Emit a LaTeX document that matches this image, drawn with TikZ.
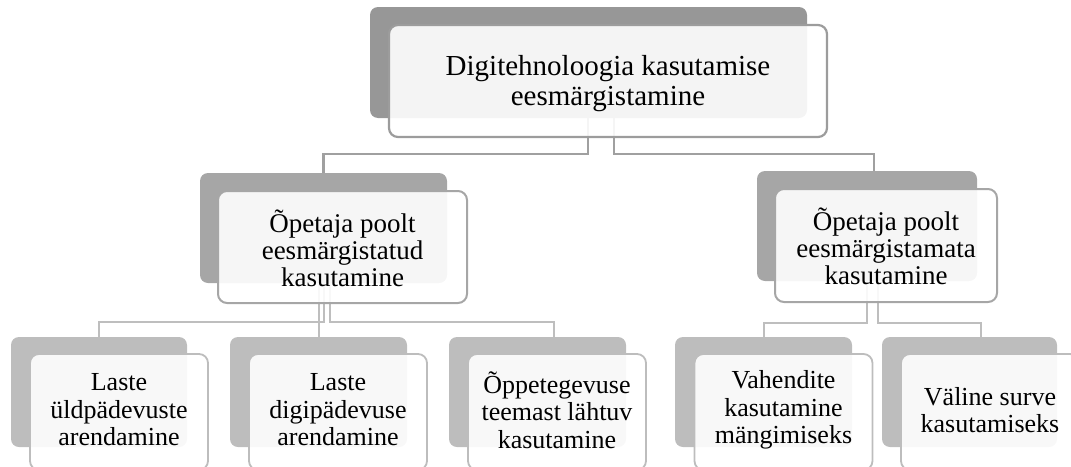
\documentclass[tikz,border=0pt]{standalone}
\usepackage{fontspec}
\setmainfont{Liberation Serif}
\definecolor{d0}{HTML}{979797}
\definecolor{d1}{HTML}{A6A6A6}
\definecolor{d2}{HTML}{BDBDBD}
\definecolor{b0}{HTML}{9C9C9C}
\definecolor{b1}{HTML}{A6A6A6}
\definecolor{b2}{HTML}{BDBDBD}
\definecolor{c0}{HTML}{A0A0A0}
\definecolor{c2}{HTML}{BEBEBE}
\tikzset{
  back/.style={draw=none, rounded corners=8pt, inner sep=0pt},
  front/.style={fill=white, fill opacity=0.9, draw opacity=1,
    rounded corners=9pt, inner sep=0pt},
  conn0/.style={draw=c0, line width=2.4pt},
  conn2/.style={draw=c2, line width=2pt},
  txt0/.style={align=center, inner sep=0pt, font=\fontsize{29pt}{30pt}\selectfont},
  txt1/.style={align=center, inner sep=0pt, font=\fontsize{27pt}{27pt}\selectfont},
  txt2/.style={align=center, inner sep=0pt, font=\fontsize{26pt}{27.5pt}\selectfont},
}
\begin{document}
\begin{tikzpicture}[x=1pt,y=-1pt]
\clip (0,0) rectangle (1071,466);
% back (dark) boxes
\node[back, fill=d0, minimum width=437pt, minimum height=111pt] (t0b) at (588.5,62.5) {};
\node[back, fill=d1, minimum width=247pt, minimum height=110pt] (l1b) at (323.5,228) {};
\node[back, fill=d1, minimum width=220pt, minimum height=110pt] (r1b) at (867,226) {};
\node[back, fill=d2, minimum width=176pt, minimum height=110pt] (a1b) at (99,392) {};
\node[back, fill=d2, minimum width=177pt, minimum height=110pt] (a2b) at (318.5,392) {};
\node[back, fill=d2, minimum width=177pt, minimum height=110pt] (a3b) at (537.5,392) {};
\node[back, fill=d2, minimum width=177pt, minimum height=110pt] (b1b) at (763.5,392) {};
\node[back, fill=d2, minimum width=175pt, minimum height=110pt] (b2b) at (969.5,392) {};
% connectors
\draw[conn0] ([xshift=-0.5pt]t0b.south) |- ([yshift=19pt]l1b.north) -- (l1b.north);
\draw[conn0] ([xshift=25.5pt]t0b.south) |- ([xshift=7pt,yshift=17pt]r1b.north) -- ([xshift=7pt]r1b.north);
\draw[conn2] ([xshift=-5pt]l1b.south) -- (a2b.north);
\draw[conn2] (l1b.south) |- ([yshift=15pt]a1b.north) -- (a1b.north);
\draw[conn2] ([xshift=6.5pt]l1b.south) |- ([xshift=16.5pt,yshift=15pt]a3b.north) -- ([xshift=16.5pt]a3b.north);
\draw[conn2] (r1b.south) |- ([yshift=14pt]b1b.north) -- (b1b.north);
\draw[conn2] ([xshift=11pt]r1b.south) |- ([xshift=11.5pt,yshift=14pt]b2b.north) -- ([xshift=11.5pt]b2b.north);
% front boxes
\node[front, draw=b0, line width=2.2pt, minimum width=438pt, minimum height=112pt] (t0) at (608,81) {};
\node[front, draw=b1, line width=2pt, minimum width=249pt, minimum height=112pt] (l1) at (342.5,247) {};
\node[front, draw=b1, line width=2pt, minimum width=222pt, minimum height=113pt] (r1) at (886,245.5) {};
\node[front, draw=b2, line width=1.8pt, minimum width=178pt, minimum height=116pt] (a1) at (119,412) {};
\node[front, draw=b2, line width=1.8pt, minimum width=178pt, minimum height=116pt] (a2) at (338,412) {};
\node[front, draw=b2, line width=1.8pt, minimum width=178pt, minimum height=116pt] (a3) at (557,412) {};
\node[front, draw=b2, line width=1.8pt, minimum width=178pt, minimum height=116pt] (b1) at (783.5,412) {};
\node[front, draw=b2, line width=1.8pt, minimum width=178pt, minimum height=116pt] (b2) at (990,412) {};
% texts
\node[txt0] (t0t) at ([yshift=-3pt]t0.center) {Digitehnoloogia kasutamise\\eesmärgistamine};
\node[txt1] (l1t) at ([yshift=-1pt]l1.center) {Õpetaja poolt\\eesmärgistatud\\kasutamine};
\node[txt1] (r1t) at ([yshift=-1pt]r1.center) {Õpetaja poolt\\eesmärgistamata\\kasutamine};
\node[txt2] (a1t) at (119,410) {Laste\\üldpädevuste\\arendamine};
\node[txt2] (a2t) at (338,410) {Laste\\digipädevuse\\arendamine};
\node[txt2] (a3t) at (557,410) {Õppetegevuse\\teemast lähtuv\\kasutamine};
\node[txt2] (b1t) at (783.5,410) {Vahendite\\kasutamine\\mängimiseks};
\node[txt2] (b2t) at (990,410) {Väline surve\\kasutamiseks};
\end{tikzpicture}
\end{document}
